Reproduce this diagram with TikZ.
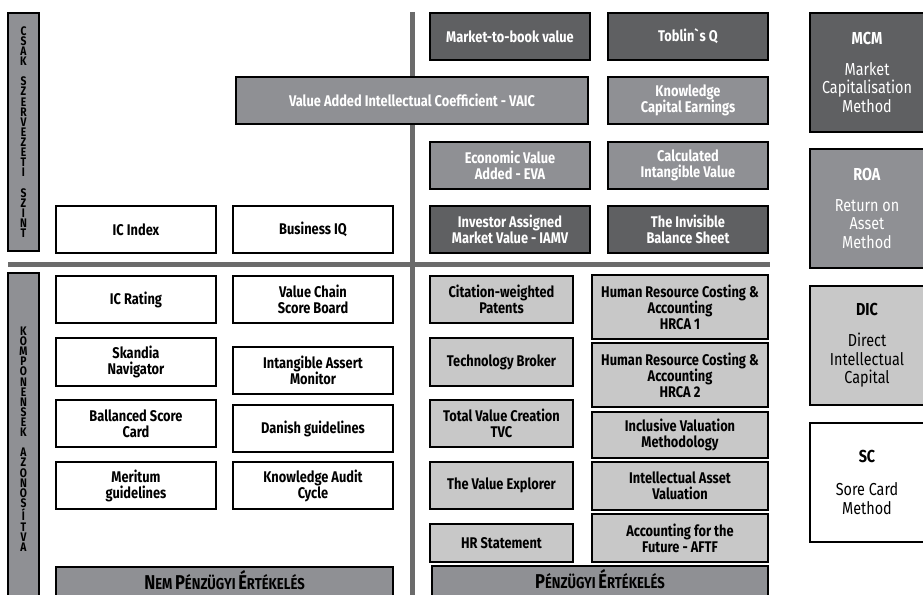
\documentclass[tikz,border=0pt]{standalone}
\usepackage{fontspec}
\usetikzlibrary{calc}
\setmainfont{Fira Sans}[FakeStretch=0.83]
\definecolor{darkbox}{RGB}{95,96,98}
\definecolor{midbox}{RGB}{143,144,148}
\definecolor{lightbox}{RGB}{200,200,200}
\definecolor{divider}{RGB}{107,107,107}
\tikzset{
  cell/.style={draw=black, line width=0.8pt, inner sep=1pt, align=center,
    font=\bfseries\fontsize{11.6}{12}\selectfont},
  darkcell/.style={cell, fill=darkbox, text=white},
  midcell/.style={cell, fill=midbox, text=white},
  lightcell/.style={cell, fill=lightbox, text=black},
  whitecell/.style={cell, fill=white, text=black},
  legend/.style={draw=black, line width=0.8pt, align=center,
    font=\fontsize{13}{14}\selectfont},
  sidebar/.style={draw=black, line width=0.8pt, fill=midbox, align=center,
    font=\bfseries\fontsize{9.3}{7.6}\selectfont, inner sep=0pt},
  banner/.style={draw=black, line width=0.8pt, fill=midbox},
  bannertext/.style={text=black, font=\bfseries, inner sep=0pt, anchor=base},
  rule/.style={draw=divider, line width=3.75pt}
}
% box from (x1,y1) to (x2,y2), pixel-like units
\newcommand\cellbox[7]{\node[#1, minimum width={(#4-#2)*0.75pt},
  minimum height={(#5-#3)*0.75pt}] (#6) at ({(#2+#4)/2},{(#3+#5)/2}) {#7};}
\newcommand\bigsc[2]{{\fontsize{15}{15}\selectfont #1}{\fontsize{11.8}{15}\selectfont #2}}
\begin{document}
\begin{tikzpicture}[x=0.75pt,y=-0.75pt]
\useasboundingbox (0,0) rectangle (923,595);
\begin{scope}
\clip (0,0) rectangle (923,595);
% dividers
\coordinate (hl) at (8,264);
\coordinate (hr) at (770,264);
\coordinate (vt) at (412.5,12);
\coordinate (vb) at (412.5,600);
\draw[rule] (hl) -- (hr);
\draw[rule] (vt) -- (vb);

% side labels
\cellbox{sidebar}{8}{13}{39}{251}{orglevel}{C\\S\\A\\K\\[7.5pt]S\\Z\\E\\R\\V\\E\\Z\\E\\T\\I\\[7.5pt]S\\Z\\I\\N\\T}
\cellbox{sidebar}{8}{273}{39}{605}{components}{K\\O\\M\\P\\O\\N\\E\\N\\S\\E\\K\\[7.5pt]A\\Z\\O\\N\\O\\S\\Í\\T\\V\\A}

% upper right quadrant
\cellbox{darkcell}{430}{13}{590}{60}{mtb}{Market-to-book value}
\cellbox{darkcell}{608}{13}{768}{60}{tobin}{Toblin\textasciigrave s Q}
\cellbox{midcell}{236}{77}{588}{124}{vaic}{Value Added Intellectual Coefficient - VAIC}
\cellbox{midcell}{608}{77}{768}{124}{kce}{Knowledge\\Capital Earnings}
\cellbox{midcell}{430}{142}{590}{189}{eva}{Economic Value\\Added - EVA}
\cellbox{midcell}{608}{142}{768}{189}{civ}{Calculated\\Intangible Value}
\cellbox{darkcell}{430}{206}{590}{253}{iamv}{Investor Assigned\\Market Value - IAMV}
\cellbox{darkcell}{608}{206}{768}{253}{ibs}{The Invisible\\Balance Sheet}

% upper left quadrant
\cellbox{whitecell}{56}{206}{216}{253}{icindex}{IC Index}
\cellbox{whitecell}{233}{206}{393}{253}{bizq}{Business IQ}

% lower left quadrant
\cellbox{whitecell}{56}{276}{216}{323}{icrating}{IC Rating}
\cellbox{whitecell}{233}{276}{393}{323}{vcsb}{Value Chain\\Score Board}
\cellbox{whitecell}{56}{338}{216}{386}{skandia}{Skandia\\Navigator}
\cellbox{whitecell}{233}{347}{393}{394}{iam}{Intangible Assert\\Monitor}
\cellbox{whitecell}{56}{400}{216}{447}{bsc}{Ballanced Score\\Card}
\cellbox{whitecell}{233}{405}{393}{452}{danish}{Danish guidelines}
\cellbox{whitecell}{56}{462}{216}{509}{meritum}{Meritum\\guidelines}
\cellbox{whitecell}{233}{462}{393}{509}{kac}{Knowledge Audit\\Cycle}
\cellbox{banner}{56}{567}{393}{605}{nonfin}{}
\node[bannertext] (nonfintext) at ($(nonfin.north)+(0,23)$)
  {\bigsc{N}{EM} \bigsc{P}{ÉNZÜGYI} \bigsc{É}{RTÉKELÉS}};

% lower right quadrant
\cellbox{lightcell}{430}{276}{573}{323}{cwp}{Citation-weighted\\Patents}
\cellbox{lightcell}{592}{275}{768}{339}{hrca1}{Human Resource Costing \&\\Accounting\\HRCA 1}
\cellbox{lightcell}{430}{338}{573}{386}{tb}{Technology Broker}
\cellbox{lightcell}{592}{343}{768}{407}{hrca2}{Human Resource Costing \&\\Accounting\\HRCA 2}
\cellbox{lightcell}{430}{400}{573}{447}{tvc}{Total Value Creation\\TVC}
\cellbox{lightcell}{592}{412}{768}{458}{ivm}{Inclusive Valuation\\Methodology}
\cellbox{lightcell}{430}{462}{573}{509}{tve}{The Value Explorer}
\cellbox{lightcell}{592}{462}{768}{510}{iav}{Intellectual Asset\\Valuation}
\cellbox{lightcell}{430}{524}{573}{562}{hrs}{HR Statement}
\cellbox{lightcell}{592}{514}{768}{562}{aftf}{Accounting for the\\Future - AFTF}
\cellbox{banner}{432}{566}{768}{605}{fin}{}
\node[bannertext] (fintext) at ($(fin.north)+(0,23)$)
  {\bigsc{P}{ÉNZÜGYI} \bigsc{É}{RTÉKELÉS}};

% legend
\cellbox{legend, fill=darkbox, text=white}{810}{13}{924}{132}{mcm}{\textbf{MCM}\\[9pt]Market\\Capitalisation\\Method}
\cellbox{legend, fill=midbox, text=white}{810}{149}{924}{268}{roa}{\textbf{ROA}\\[9pt]Return on\\Asset\\Method}
\cellbox{legend, fill=lightbox, text=black}{810}{286}{924}{405}{dic}{\textbf{DIC}\\[9pt]Direct\\Intellectual\\Capital}
\cellbox{legend, fill=white, text=black}{810}{423}{924}{542}{sc}{\textbf{SC}\\[11pt]Sore Card\\Method}
\end{scope}
\end{tikzpicture}
\end{document}
